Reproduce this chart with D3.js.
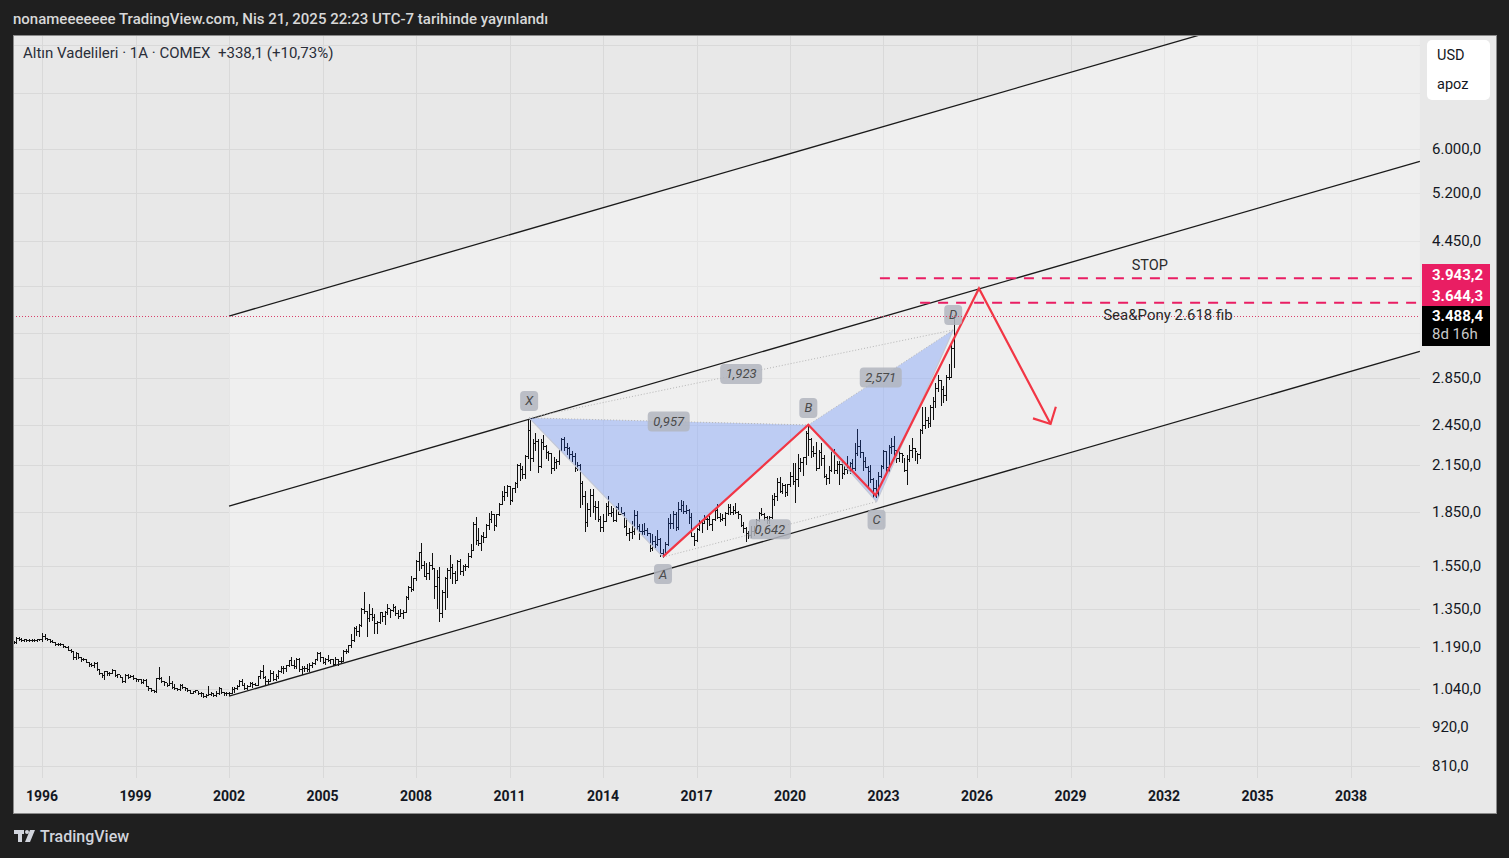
<!DOCTYPE html>
<html>
<head>
<meta charset="utf-8">
<script src="https://cdn.jsdelivr.net/npm/d3@7"></script>
<style>
  body { margin: 0; background: #1f1f1f; }
  text { font-family: Roboto, "Noto Sans", sans-serif; }
</style>
</head>
<body>
<div id="chart"></div>
<script>
// Altın Vadelileri (COMEX), monthly bars, back-adjusted prices as shown on the axis
var years = [1995, 1996, 1997, 1998, 1999, 2000, 2001, 2002, 2003, 2004, 2005, 2006, 2007, 2008, 2009, 2010,
             2011, 2012, 2013, 2014, 2015, 2016, 2017, 2018, 2019, 2020, 2021, 2022, 2023, 2024, 2025];
var firstOpen = 1212;

var highs = [
  [1217,1215,1231,1231,1227,1225,1225,1224,1223,1225,1225,1225],
  [1248,1245,1228,1224,1218,1212,1206,1206,1202,1197,1194,1183],
  [1176,1173,1168,1154,1151,1148,1136,1132,1136,1135,1111,1096],
  [1103,1102,1099,1109,1105,1092,1090,1082,1092,1093,1089,1087],
  [1079,1076,1074,1073,1073,1051,1044,1037,1078,1117,1081,1067],
  [1062,1085,1066,1057,1044,1058,1057,1046,1043,1038,1034,1038],
  [1033,1029,1026,1022,1050,1030,1025,1032,1048,1045,1030,1030],
  [1031,1047,1048,1052,1070,1073,1062,1055,1065,1063,1061,1085],
  [1105,1123,1085,1075,1105,1101,1092,1106,1119,1121,1125,1142],
  [1154,1142,1150,1149,1119,1122,1128,1131,1134,1146,1171,1171],
  [1153,1150,1160,1148,1148,1153,1145,1155,1181,1183,1201,1243],
  [1272,1274,1285,1351,1426,1340,1371,1354,1328,1297,1336,1335],
  [1340,1372,1349,1372,1360,1343,1349,1342,1407,1453,1503,1490],
  [1581,1623,1673,1575,1567,1570,1617,1540,1530,1544,1436,1495],
  [1538,1608,1562,1526,1579,1587,1556,1561,1619,1664,1787,1818],
  [1752,1716,1730,1774,1839,1855,1837,1836,1902,1977,2012,2018],
  [2012,2000,2036,2156,2164,2142,2220,2496,2507,2340,2386,2344],
  [2342,2368,2293,2251,2239,2211,2196,2260,2350,2358,2313,2282],
  [2252,2239,2172,2160,2043,1979,1903,1989,1989,1916,1917,1822],
  [1835,1901,1947,1886,1870,1881,1901,1878,1845,1810,1755,1795],
  [1861,1853,1776,1776,1784,1756,1726,1721,1708,1742,1695,1639],
  [1675,1810,1833,1851,1848,1905,1919,1912,1892,1866,1844,1727],
  [1755,1799,1798,1831,1810,1831,1805,1863,1897,1841,1835,1845],
  [1896,1895,1886,1899,1856,1829,1786,1757,1734,1766,1763,1806],
  [1846,1869,1843,1826,1824,1955,1963,2065,2072,2028,2021,2026],
  [2102,2166,2164,2228,2200,2210,2405,2450,2350,2289,2320,2259],
  [2313,2224,2090,2145,2262,2264,2179,2177,2179,2155,2217,2172],
  [2192,2313,2415,2334,2245,2211,2143,2151,2060,2051,2106,2152],
  [2260,2251,2295,2351,2365,2257,2253,2240,2201,2219,2296,2352],
  [2275,2240,2416,2598,2594,2518,2611,2680,2808,2886,2831,2781],
  [2883,2989,3177,3500]
];
var lows = [
  [1206,1207,1209,1221,1217,1217,1216,1215,1216,1216,1217,1219],
  [1216,1224,1219,1213,1210,1200,1198,1201,1192,1190,1180,1174],
  [1148,1148,1151,1140,1142,1134,1119,1119,1117,1107,1092,1081],
  [1074,1089,1088,1094,1084,1081,1080,1064,1065,1079,1080,1074],
  [1069,1068,1061,1061,1049,1038,1033,1030,1031,1074,1064,1055],
  [1050,1052,1044,1040,1036,1037,1044,1035,1034,1026,1025,1029],
  [1022,1015,1014,1012,1019,1019,1018,1017,1022,1028,1021,1020],
  [1021,1025,1030,1040,1049,1054,1041,1040,1050,1048,1053,1053],
  [1077,1079,1055,1057,1067,1071,1071,1079,1099,1094,1104,1120],
  [1123,1114,1115,1104,1091,1104,1103,1102,1116,1127,1142,1140],
  [1130,1127,1138,1133,1124,1123,1126,1137,1138,1168,1171,1193],
  [1216,1238,1237,1276,1330,1235,1297,1301,1249,1248,1290,1298],
  [1285,1325,1314,1341,1323,1311,1319,1308,1334,1391,1431,1432],
  [1482,1530,1542,1500,1485,1488,1533,1397,1354,1295,1315,1349],
  [1402,1492,1465,1465,1482,1511,1504,1529,1545,1595,1632,1666],
  [1662,1634,1678,1703,1750,1791,1743,1765,1829,1895,1918,1948],
  [1897,1912,1971,2006,2050,2063,2064,2202,2116,2183,2262,2103],
  [2141,2264,2201,2185,2097,2116,2131,2156,2248,2256,2230,2191],
  [2181,2110,2119,1876,1893,1735,1763,1825,1846,1806,1796,1737],
  [1737,1793,1832,1823,1795,1795,1836,1835,1760,1715,1685,1697],
  [1720,1743,1694,1722,1722,1713,1628,1631,1650,1662,1602,1596],
  [1620,1658,1752,1754,1743,1750,1852,1844,1842,1780,1708,1660],
  [1682,1743,1730,1780,1749,1771,1740,1801,1813,1795,1799,1772],
  [1833,1837,1836,1839,1812,1765,1731,1680,1700,1703,1716,1741],
  [1796,1831,1799,1783,1781,1813,1892,1920,1971,1963,1947,1954],
  [2007,2023,1911,2008,2107,2081,2157,2224,2207,2216,2118,2128],
  [2153,2066,2025,2031,2111,2096,2094,2020,2063,2087,2099,2093],
  [2119,2117,2226,2207,2119,2136,2010,2038,1940,1940,1937,2069],
  [2134,2112,2105,2238,2217,2172,2177,2170,2107,2023,2180,2209],
  [2186,2165,2199,2387,2426,2433,2438,2502,2600,2737,2611,2638],
  [2655,2843,2860,2957]
];
var closes = [
  [1210,1211,1227,1225,1220,1222,1219,1219,1219,1218,1222,1222],
  [1235,1229,1223,1216,1213,1203,1204,1203,1194,1192,1182,1177],
  [1152,1169,1154,1145,1148,1136,1127,1125,1133,1110,1096,1088],
  [1101,1094,1097,1105,1087,1091,1082,1066,1088,1083,1084,1079],
  [1074,1073,1064,1070,1050,1043,1035,1034,1077,1077,1068,1065],
  [1053,1062,1046,1042,1039,1055,1047,1042,1038,1028,1032,1035],
  [1026,1026,1016,1021,1022,1026,1020,1028,1045,1030,1025,1028],
  [1027,1041,1045,1051,1068,1055,1044,1051,1062,1056,1055,1084],
  [1103,1082,1069,1069,1095,1076,1084,1104,1114,1113,1123,1141],
  [1126,1120,1148,1108,1114,1114,1109,1126,1132,1145,1168,1152],
  [1136,1147,1141,1147,1128,1145,1138,1140,1178,1175,1200,1220],
  [1269,1255,1281,1350,1338,1308,1325,1315,1287,1293,1334,1320],
  [1334,1352,1346,1358,1332,1320,1333,1337,1404,1447,1438,1490],
  [1576,1620,1557,1501,1517,1556,1539,1455,1498,1331,1427,1490],
  [1530,1543,1517,1483,1577,1524,1551,1550,1602,1633,1774,1687],
  [1671,1708,1705,1770,1803,1834,1770,1837,1898,1946,1974,2009],
  [1921,1998,2027,2150,2123,2088,2214,2414,2204,2308,2329,2146],
  [2318,2287,2243,2236,2131,2172,2181,2256,2338,2279,2271,2231],
  [2218,2133,2151,2031,1947,1789,1867,1951,1882,1878,1805,1757],
  [1795,1881,1839,1850,1801,1877,1837,1842,1765,1726,1730,1739],
  [1832,1766,1735,1734,1742,1723,1646,1683,1666,1692,1615,1611],
  [1664,1785,1781,1836,1760,1865,1892,1852,1857,1816,1710,1688],
  [1747,1788,1784,1803,1804,1777,1805,1857,1819,1806,1811,1844],
  [1875,1848,1857,1845,1835,1773,1753,1726,1716,1735,1743,1802],
  [1841,1836,1816,1801,1820,1925,1947,2037,1978,2018,1974,2023],
  [2077,2041,2056,2134,2176,2210,2386,2339,2253,2235,2134,2247],
  [2200,2077,2063,2115,2251,2116,2161,2161,2099,2125,2114,2169],
  [2134,2237,2290,2246,2181,2138,2110,2053,1997,1962,2079,2142],
  [2255,2138,2281,2287,2262,2201,2235,2223,2114,2194,2257,2271],
  [2252,2229,2414,2452,2488,2469,2593,2646,2759,2834,2751,2696],
  [2865,2863,3150.3,3488.4]
];

// axis ticks
var yearTicks = [1996, 1999, 2002, 2005, 2008, 2011, 2014, 2017, 2020, 2023, 2026, 2029, 2032, 2035, 2038];
var priceTicks = [6000, 5200, 4450, 2850, 2450, 2150, 1850, 1550, 1350, 1190, 1040, 920, 810];
var gridPrices = [8400, 7200, 6000, 5200, 4450, 3850, 3300, 2850, 2450, 2150, 1850, 1550, 1350, 1190, 1040, 920, 810];

// parallel channel: start / end dates and the three lines' prices at them
var channelDates = ["2002-01-01", "2040-03-18"];
var channelLower = [1016, 3111];
var channelMiddle = [1883, 5765];
var channelUpper = [3489, 10683];

// XABCD pattern
var patternNames = ["X", "A", "B", "C", "D"];
var patternDates = ["2011-08-19", "2015-12-05", "2020-08-03", "2022-10-12", "2025-03-28"];
var patternPrices = [2507, 1596, 2450, 1910, 3335];
var ratioLabels = [
  { from: "X", to: "B", text: "0,957" },
  { from: "A", to: "C", text: "0,642" },
  { from: "X", to: "D", text: "1,923" },
  { from: "B", to: "D", text: "2,571" }
];

// hand drawn forecast path and its arrow head
var pathDates = ["2015-12-05", "2020-08-03", "2022-09-30", "2026-01-24", "2028-05-12"];
var pathPrices = [1598, 2452, 1950, 3815, 2458];
var arrowDates = ["2027-10-19", "2028-05-12", "2028-07-13"];
var arrowPrices = [2503, 2458, 2599];

// horizontal levels
var stopLevel = 3943.2, fibLevel = 3644.3, lastPrice = 3488.4;
var stopFrom = "2022-11-20", fibFrom = "2024-03-05";

var parse = d3.timeParse("%Y-%m-%d");
var fmt = d3.formatLocale({ decimal: ",", thousands: ".", grouping: [3], currency: ["", ""] }).format(",.1f");

var W = 1509, H = 858;
var plot = { left: 13, right: 1420, top: 35, bottom: 778 };

var svg = d3.select("#chart").append("svg")
  .attr("width", W)
  .attr("height", H);

var x = d3.scaleTime()
  .domain([new Date(1996, 0, 1), new Date(2038, 0, 1)])
  .range([42, 1351]);
var y = d3.scaleLog()
  .domain([6000, 810])
  .range([149, 766]);

// frame
svg.append("rect").attr("width", W).attr("height", H).attr("fill", "#1f1f1f");
svg.append("rect")
  .attr("x", 13.5).attr("y", 35.5).attr("width", 1483).attr("height", 778)
  .attr("fill", "#e8e8e8").attr("stroke", "#8a8a8a");

svg.append("text")
  .attr("x", 13).attr("y", 24)
  .attr("fill", "#d8d8d8").style("font-size", "15px").style("font-weight", 500)
  .text("nonameeeeeee TradingView.com, Nis 21, 2025 22:23 UTC-7 tarihinde yayınlandı");

svg.append("clipPath").attr("id", "plotClip")
  .append("rect")
  .attr("x", plot.left + 1).attr("y", plot.top + 1)
  .attr("width", plot.right - plot.left - 1).attr("height", plot.bottom - plot.top - 1);

var pg = svg.append("g").attr("clip-path", "url(#plotClip)");

// grid
pg.selectAll("line.hgrid").data(gridPrices).enter().append("line")
  .attr("x1", plot.left).attr("x2", plot.right)
  .attr("y1", function (d) { return Math.round(y(d)) + 0.5; })
  .attr("y2", function (d) { return Math.round(y(d)) + 0.5; })
  .attr("stroke", "#d9d9d9");
pg.selectAll("line.vgrid").data(yearTicks).enter().append("line")
  .attr("x1", function (d) { return Math.round(x(new Date(d, 0, 1))) + 0.5; })
  .attr("x2", function (d) { return Math.round(x(new Date(d, 0, 1))) + 0.5; })
  .attr("y1", plot.top).attr("y2", plot.bottom)
  .attr("stroke", "#d9d9d9");

// channel background
var cd = channelDates.map(parse);
pg.append("path")
  .attr("d", "M" + x(cd[0]) + "," + y(channelLower[0]) + "L" + x(cd[1]) + "," + y(channelLower[1]) +
             "L" + x(cd[1]) + "," + y(channelUpper[1]) + "L" + x(cd[0]) + "," + y(channelUpper[0]) + "Z")
  .attr("fill", "#ffffff").attr("fill-opacity", 0.33);

// monthly OHLC bars
var bars = [];
var prev = firstOpen;
years.forEach(function (yr, i) {
  closes[i].forEach(function (c, m) {
    bars.push({ date: new Date(yr, m, 1), open: prev, high: highs[i][m], low: lows[i][m], close: c });
    prev = c;
  });
});

pg.append("g").selectAll("path").data(bars).enter().append("path")
  .attr("d", function (d) {
    var px = Math.round(x(d.date));
    var hi = Math.round(y(d.high)), lo = Math.round(y(d.low));
    var o = Math.round(y(d.open)) + 0.5, c = Math.round(y(d.close)) + 0.5;
    return "M" + (px + 0.5) + "," + hi + "V" + (lo + 1) +
           "M" + (px - 1) + "," + o + "H" + px +
           "M" + (px + 1) + "," + c + "H" + (px + 2);
  })
  .attr("stroke", "#111").attr("stroke-width", 1).attr("fill", "none")
  .style("shape-rendering", "crispEdges");

// channel lines
[channelLower, channelMiddle, channelUpper].forEach(function (v) {
  pg.append("line")
    .attr("x1", x(cd[0])).attr("y1", y(v[0]))
    .attr("x2", x(cd[1])).attr("y2", y(v[1]))
    .attr("stroke", "#1a1a1a").attr("stroke-width", 1.3);
});

// XABCD pattern
var pts = {};
patternNames.forEach(function (n, i) {
  pts[n] = [x(parse(patternDates[i])), y(patternPrices[i])];
});
var tri = d3.line();
pg.append("path").attr("d", tri([pts.X, pts.A, pts.B]) + "Z")
  .attr("fill", "rgb(41,98,255)").attr("fill-opacity", 0.25);
pg.append("path").attr("d", tri([pts.B, pts.C, pts.D]) + "Z")
  .attr("fill", "rgb(41,98,255)").attr("fill-opacity", 0.25);
pg.append("path").attr("d", tri([pts.X, pts.A, pts.B, pts.C, pts.D]))
  .attr("fill", "none").attr("stroke", "#c3c8d6").attr("stroke-width", 1.2);
ratioLabels.forEach(function (r) {
  pg.append("line")
    .attr("x1", pts[r.from][0]).attr("y1", pts[r.from][1])
    .attr("x2", pts[r.to][0]).attr("y2", pts[r.to][1])
    .attr("stroke", "#b5b5b5").attr("stroke-dasharray", "1,2");
});

// forecast path
var fp = pathDates.map(function (d, i) { return [x(parse(d)), y(pathPrices[i])]; });
pg.append("path").attr("d", d3.line()(fp))
  .attr("fill", "none").attr("stroke", "#f23645").attr("stroke-width", 2.2)
  .attr("stroke-linejoin", "miter");
var ah = arrowDates.map(function (d, i) { return [x(parse(d)), y(arrowPrices[i])]; });
pg.append("path").attr("d", d3.line()(ah))
  .attr("fill", "none").attr("stroke", "#f23645").attr("stroke-width", 2.2);

// labels on the pattern
function tag(cx, cy, txt, w) {
  var g = pg.append("g");
  g.append("rect")
    .attr("x", cx - w / 2).attr("y", cy - 10).attr("width", w).attr("height", 20).attr("rx", 4)
    .attr("fill", "#b2b5be").attr("fill-opacity", 0.85);
  g.append("text")
    .attr("x", cx).attr("y", cy + 4.5).attr("text-anchor", "middle")
    .attr("fill", "#4a4a4a").style("font-size", "13px").style("font-style", "italic")
    .text(txt);
}
var tagShift = { X: -17, A: 17, B: -17, C: 18, D: -15 };
patternNames.forEach(function (n) {
  tag(pts[n][0], pts[n][1] + tagShift[n], n, 18);
});
ratioLabels.forEach(function (r) {
  tag((pts[r.from][0] + pts[r.to][0]) / 2, (pts[r.from][1] + pts[r.to][1]) / 2, r.text, 42);
});

// horizontal levels
var xr = x(parse(channelDates[1]));
pg.append("line")
  .attr("x1", plot.left).attr("x2", plot.right)
  .attr("y1", Math.round(y(lastPrice)) + 0.5).attr("y2", Math.round(y(lastPrice)) + 0.5)
  .attr("stroke", "#d9406a").attr("stroke-dasharray", "1,2");
[[stopLevel, stopFrom], [fibLevel, fibFrom]].forEach(function (l) {
  pg.append("line")
    .attr("x1", x(parse(l[1]))).attr("x2", xr)
    .attr("y1", y(l[0])).attr("y2", y(l[0]))
    .attr("stroke", "#e91e63").attr("stroke-width", 2).attr("stroke-dasharray", "10,8");
});
pg.append("text")
  .attr("x", x(parse("2031-07-19"))).attr("y", y(stopLevel) - 8)
  .attr("text-anchor", "middle").attr("fill", "#2a2a2a").style("font-size", "14.5px")
  .text("STOP");
pg.append("text")
  .attr("x", x(parse("2032-02-17"))).attr("y", y(fibLevel) + 17)
  .attr("text-anchor", "middle").attr("fill", "#2a2a2a").style("font-size", "15px")
  .text("Sea&Pony 2.618 fib");

// legend line
svg.append("text")
  .attr("x", 23).attr("y", 58)
  .attr("fill", "#2a2e39").style("font-size", "15px")
  .attr("xml:space", "preserve")
  .text("Altın Vadelileri · 1A · COMEX  +338,1 (+10,73%)");

// price axis
svg.append("g").selectAll("text").data(priceTicks).enter().append("text")
  .attr("x", 1432).attr("y", function (d) { return y(d) + 5; })
  .attr("fill", "#131722").style("font-size", "15px")
  .text(function (d) { return fmt(d); });

svg.append("rect")
  .attr("x", 1427).attr("y", 40).attr("width", 63).attr("height", 60).attr("rx", 5)
  .attr("fill", "#ffffff");
svg.append("text").attr("x", 1437).attr("y", 60).attr("fill", "#131722").style("font-size", "14.5px").text("USD");
svg.append("text").attr("x", 1437).attr("y", 89).attr("fill", "#131722").style("font-size", "14.5px").text("apoz");

// price labels, stacked upwards from the last price
var lastTop = Math.round(y(lastPrice)) - 10;
svg.append("rect").attr("x", 1422).attr("y", lastTop).attr("width", 68).attr("height", 40).attr("fill", "#000");
svg.append("text").attr("x", 1432).attr("y", lastTop + 15).attr("fill", "#fff")
  .style("font-size", "15px").style("font-weight", 700).text(fmt(lastPrice));
svg.append("text").attr("x", 1432).attr("y", lastTop + 33).attr("fill", "#c9c9c9")
  .style("font-size", "15px").text("8d 16h");
var limit = lastTop;
[fibLevel, stopLevel].forEach(function (v) {
  var top = Math.min(y(v) - 10.5, limit - 21);
  svg.append("rect").attr("x", 1422).attr("y", top).attr("width", 68).attr("height", 21).attr("fill", "#e91e63");
  svg.append("text").attr("x", 1432).attr("y", top + 15.5).attr("fill", "#fff")
    .style("font-size", "15px").style("font-weight", 700).text(fmt(v));
  limit = top;
});

// time axis
svg.append("g").selectAll("text").data(yearTicks).enter().append("text")
  .attr("x", function (d) { return x(new Date(d, 0, 1)); })
  .attr("y", 801).attr("text-anchor", "middle")
  .attr("fill", "#131722").style("font-size", "14px").style("font-weight", 700)
  .text(function (d) { return d; });

// footer logo
var logo = svg.append("g").attr("fill", "#d1d4dc");
logo.append("rect").attr("x", 14).attr("y", 830).attr("width", 10).attr("height", 4);
logo.append("rect").attr("x", 18).attr("y", 830).attr("width", 4).attr("height", 12);
logo.append("circle").attr("cx", 27).attr("cy", 832).attr("r", 2);
logo.append("path").attr("d", "M30,830L35,830L30,842L25,842Z");
svg.append("text").attr("x", 40).attr("y", 842)
  .attr("fill", "#d1d4dc").style("font-size", "16px").style("font-weight", 500)
  .text("TradingView");
</script>
</body>
</html>
